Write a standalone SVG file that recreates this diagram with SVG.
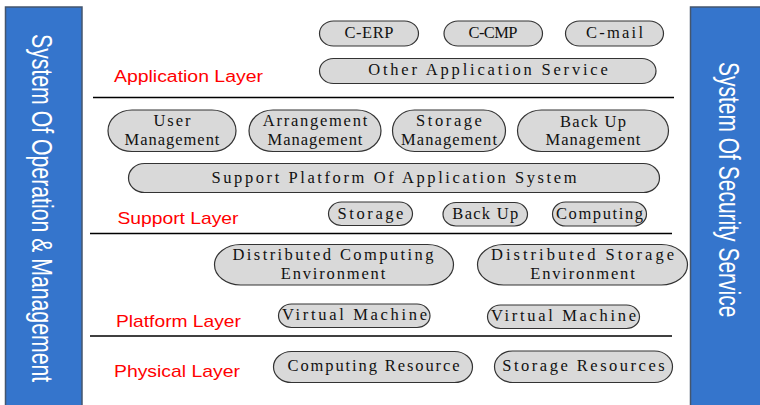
<svg xmlns="http://www.w3.org/2000/svg" width="760" height="405" viewBox="0 0 760 405">
  <style>
    .bar { fill: #3575cc; stroke: #44566e; stroke-width: 1.5; }
    .bar-text { font-family: "Liberation Sans", Arial, sans-serif; font-size: 30px; fill: #ffffff; }
    .layer { font-family: "Liberation Sans", Arial, sans-serif; font-size: 16px; fill: #ff0000; }
    .rule { stroke: #000000; stroke-width: 1.5; }
    .pill { fill: #d9d9d9; stroke: #333333; stroke-width: 1.2; }
    .label { font-family: "Liberation Serif", "Times New Roman", serif; font-size: 16.5px; fill: #111111; text-anchor: middle; }
  </style>

  <rect width="760" height="405" fill="#ffffff"/>

  <!-- side columns; their titles run top to bottom in a condensed face -->
  <g id="operation-management">
    <rect class="bar" x="5.5" y="7" width="76.5" height="400"/>
    <text class="bar-text" transform="translate(32,34) rotate(90) scale(0.708,1)">System Of Operation &amp; Management</text>
  </g>
  <g id="security-service">
    <rect class="bar" x="690.5" y="7" width="75" height="400"/>
    <text class="bar-text" transform="translate(719,62) rotate(90) scale(0.70,1)">System Of Security Service</text>
  </g>

  <!-- layer separators -->
  <g id="separators">
    <line class="rule" x1="93" y1="97.5" x2="674" y2="97.5"/>
    <line class="rule" x1="90" y1="233.5" x2="672" y2="233.5"/>
    <line class="rule" x1="90" y1="336" x2="672" y2="336" stroke-width="2"/>
  </g>

  <!-- layer titles, slightly widened -->
  <g id="layer-titles">
    <text class="layer" transform="translate(114,81.5) scale(1.214,1)">Application Layer</text>
    <text class="layer" transform="translate(117.5,224) scale(1.204,1)">Support Layer</text>
    <text class="layer" transform="translate(116,326.5) scale(1.202,1)">Platform Layer</text>
    <text class="layer" transform="translate(114,376.5) scale(1.211,1)">Physical Layer</text>
  </g>

  <!-- application layer -->
  <g id="c-erp">
    <rect class="pill" x="319.5" y="21" width="99" height="25" rx="14" ry="12.5"/>
    <text class="label" x="369" y="37.5" textLength="49">C-ERP</text>
  </g>
  <g id="c-cmp">
    <rect class="pill" x="444" y="21" width="98.5" height="25" rx="14" ry="12.5"/>
    <text class="label" x="493" y="37.5" textLength="49">C-CMP</text>
  </g>
  <g id="c-mail">
    <rect class="pill" x="565.5" y="21" width="98" height="25" rx="14" ry="12.5"/>
    <text class="label" x="614.5" y="37.5" textLength="57">C-mail</text>
  </g>
  <g id="other-application-service">
    <rect class="pill" x="319.5" y="58.5" width="336.5" height="25" rx="14" ry="12.5"/>
    <text class="label" x="488" y="74.5" textLength="239.6">Other Application Service</text>
  </g>

  <!-- support layer -->
  <g id="user-management">
    <rect class="pill" x="108" y="110" width="128" height="41.5" rx="24" ry="20.75"/>
    <text class="label" x="172" y="126" textLength="37">User</text>
    <text class="label" x="172" y="144.5" textLength="94.9">Management</text>
  </g>
  <g id="arrangement-management">
    <rect class="pill" x="249" y="110" width="132" height="41.5" rx="24" ry="20.75"/>
    <text class="label" x="315" y="126" textLength="104.5">Arrangement</text>
    <text class="label" x="315" y="144.5" textLength="94.9">Management</text>
  </g>
  <g id="storage-management">
    <rect class="pill" x="392.5" y="110" width="113" height="41.5" rx="22" ry="20.75"/>
    <text class="label" x="449" y="126" textLength="65.9">Storage</text>
    <text class="label" x="449" y="144.5" textLength="96">Management</text>
  </g>
  <g id="backup-management">
    <rect class="pill" x="517.5" y="110" width="151" height="41.5" rx="24" ry="20.75"/>
    <text class="label" x="593" y="126.5" textLength="65.9">Back Up</text>
    <text class="label" x="593" y="144.5" textLength="94.9">Management</text>
  </g>
  <g id="support-platform">
    <rect class="pill" x="128.5" y="163.5" width="531" height="29" rx="16" ry="14.5"/>
    <text class="label" x="394" y="182.7" textLength="365">Support Platform Of Application System</text>
  </g>
  <g id="storage">
    <rect class="pill" x="328.5" y="202" width="84" height="23.5" rx="13" ry="11.75"/>
    <text class="label" x="370.5" y="218.5" textLength="65.9">Storage</text>
  </g>
  <g id="back-up">
    <rect class="pill" x="443" y="202.5" width="84.5" height="23.5" rx="13" ry="11.75"/>
    <text class="label" x="485.3" y="218.5" textLength="65.9">Back Up</text>
  </g>
  <g id="computing">
    <rect class="pill" x="552.5" y="202" width="94" height="24" rx="13" ry="12"/>
    <text class="label" x="599.5" y="218.5" textLength="87">Computing</text>
  </g>

  <!-- platform layer -->
  <g id="distributed-computing">
    <rect class="pill" x="214.5" y="244.5" width="239" height="40.5" rx="26" ry="20.25"/>
    <text class="label" x="333" y="260" textLength="201">Distributed Computing</text>
    <text class="label" x="333" y="279" textLength="104.5">Environment</text>
  </g>
  <g id="distributed-storage">
    <rect class="pill" x="477.5" y="244.5" width="210" height="40.5" rx="26" ry="20.25"/>
    <text class="label" x="582.5" y="260" textLength="183">Distributed Storage</text>
    <text class="label" x="582.5" y="279" textLength="104.5">Environment</text>
  </g>
  <g id="virtual-machine-1">
    <rect class="pill" x="278.5" y="304" width="151.5" height="23.5" rx="13" ry="11.75"/>
    <text class="label" x="354.5" y="319.5" textLength="145">Virtual Machine</text>
  </g>
  <g id="virtual-machine-2">
    <rect class="pill" x="487.5" y="305" width="152" height="23.5" rx="13" ry="11.75"/>
    <text class="label" x="563.5" y="320.7" textLength="145">Virtual Machine</text>
  </g>

  <!-- physical layer -->
  <g id="computing-resource">
    <rect class="pill" x="273.5" y="351.5" width="199" height="31" rx="18" ry="15.5"/>
    <text class="label" x="373.5" y="371" textLength="172">Computing Resource</text>
  </g>
  <g id="storage-resources">
    <rect class="pill" x="494.5" y="351" width="178" height="31.5" rx="18" ry="15.75"/>
    <text class="label" x="583.5" y="371" textLength="162.4">Storage Resources</text>
  </g>
</svg>
